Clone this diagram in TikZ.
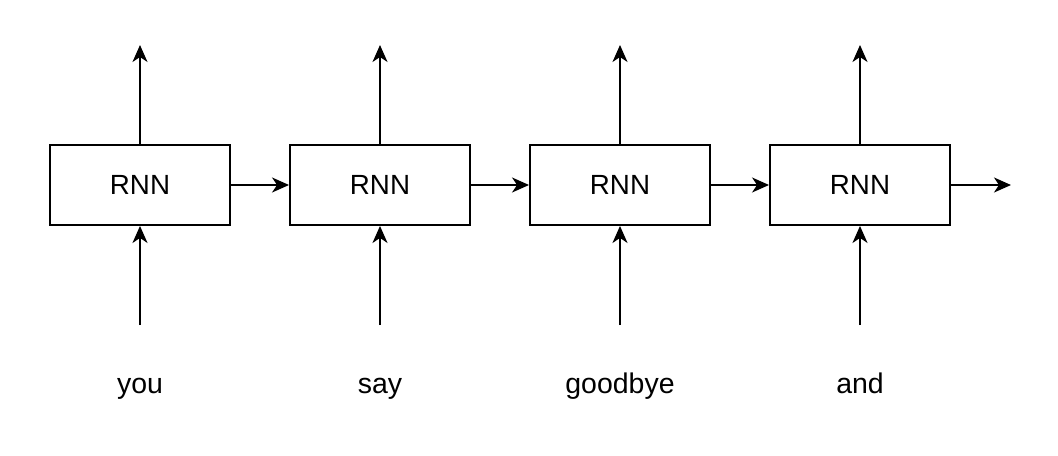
\documentclass[tikz,border=0pt]{standalone}
\usepackage{fontspec}
\setmainfont{Liberation Sans}
\usetikzlibrary{arrows.meta}

\tikzset{
	rnnbox/.style={draw, line width=1.1pt, minimum width=3.6cm, minimum height=1.6cm, inner sep=0, font=\fontsize{15.8}{18}\selectfont},
	wordlabel/.style={inner sep=0, text height=1.6ex, text depth=0.45ex, font=\fontsize{16.2}{19}\selectfont},
	flow/.style={line width=1.1pt, -{Stealth[length=0.34cm, width=0.3cm, inset=0.1cm]}}
}

\begin{document}
\begin{tikzpicture}[x=0.02cm, y=-0.02cm]
	\useasboundingbox (0, 0) rectangle (1058, 456);
	% RNN cells:
	\node[rnnbox] (R1) at (140, 185) {RNN};
	\node[rnnbox] (R2) at (380, 185) {RNN};
	\node[rnnbox] (R3) at (620, 185) {RNN};
	\node[rnnbox] (R4) at (860, 185) {RNN};
	% Words:
	\node[wordlabel] (W1) at (140, 388) {you};
	\node[wordlabel] (W2) at (380, 388) {say};
	\node[wordlabel] (W3) at (620, 388) {goodbye};
	\node[wordlabel] (W4) at (860, 388) {and};
	% Free ends:
	\coordinate (I1) at (140, 325);
	\coordinate (I2) at (380, 325);
	\coordinate (I3) at (620, 325);
	\coordinate (I4) at (860, 325);
	\coordinate (O1) at (140, 45);
	\coordinate (O2) at (380, 45);
	\coordinate (O3) at (620, 45);
	\coordinate (O4) at (860, 45);
	\coordinate (H4) at (1011, 185);
	% Inputs and outputs:
	\draw[flow] (I1) -- (R1.south);
	\draw[flow] (I2) -- (R2.south);
	\draw[flow] (I3) -- (R3.south);
	\draw[flow] (I4) -- (R4.south);
	\draw[flow] (R1.north) -- (O1);
	\draw[flow] (R2.north) -- (O2);
	\draw[flow] (R3.north) -- (O3);
	\draw[flow] (R4.north) -- (O4);
	% Hidden state:
	\draw[flow] (R1.east) -- (R2.west);
	\draw[flow] (R2.east) -- (R3.west);
	\draw[flow] (R3.east) -- (R4.west);
	\draw[flow] (R4.east) -- (H4);
\end{tikzpicture}
\end{document}
